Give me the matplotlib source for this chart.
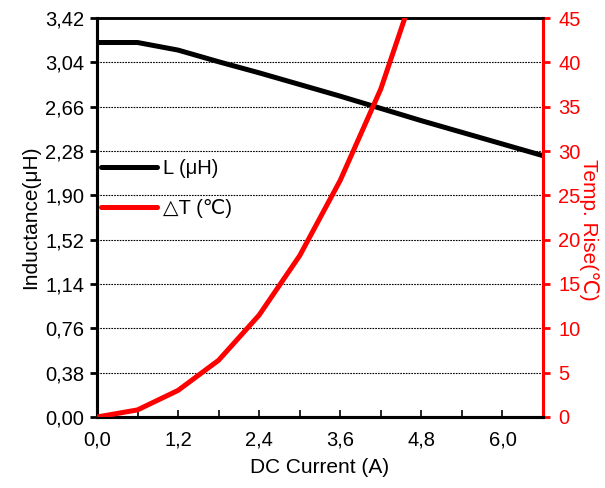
import matplotlib.pyplot as plt
import numpy as np
from matplotlib.lines import Line2D

plt.rcParams['font.family'] = ['Liberation Sans', 'DejaVu Sans']

# datos
corriente = [0.0, 0.6, 1.2, 1.8, 2.4, 3.0, 3.6, 4.2, 4.8, 5.4, 6.0, 6.6]
inductancia = [3.21, 3.21, 3.145, 3.045, 2.95, 2.85, 2.75, 2.645, 2.54, 2.44, 2.34, 2.24]
corriente_t = [0.0, 0.6, 1.2, 1.8, 2.4, 3.0, 3.6, 4.2, 4.8]
temp_rise = [0.0, 0.8, 3.0, 6.4, 11.5, 18.2, 26.7, 37.0, 50.5]

x_ticks = [0.0, 1.2, 2.4, 3.6, 4.8, 6.0]
x_labels = ["0,0", "1,2", "2,4", "3,6", "4,8", "6,0"]
yl_ticks = [0.00, 0.38, 0.76, 1.14, 1.52, 1.90, 2.28, 2.66, 3.04, 3.42]
yl_labels = ["0,00", "0,38", "0,76", "1,14", "1,52", "1,90", "2,28", "2,66", "3,04", "3,42"]
yr_ticks = [0, 5, 10, 15, 20, 25, 30, 35, 40, 45]

rojo = "#ff0000"
fs = 14.5
fs_lab = 15

fig = plt.figure(figsize=(6.05, 4.88), dpi=100)
ax1 = fig.add_axes([0.1603, 0.1455, 0.7372, 0.8176])
ax2 = ax1.twinx()

# Inductancia
ax1.plot(corriente, inductancia, color="black", lw=3.6, solid_capstyle="butt", zorder=3)
ax1.set_xlim(0, 6.6)
ax1.set_ylim(0, 3.42)
ax1.set_xticks(x_ticks)
ax1.set_xticklabels(x_labels, fontsize=fs)
ax1.set_xticks(np.arange(0.6, 6.61, 1.2), minor=True)
ax1.set_yticks(yl_ticks)
ax1.set_yticklabels(yl_labels, fontsize=fs)
ax1.tick_params(axis="x", which="both", direction="in", length=5, width=1.2, pad=10)
ax1.tick_params(axis="y", direction="out", length=5, width=2, pad=4)
for y in yl_ticks[1:-1]:
    ax1.axhline(y, color="black", lw=0.8, ls=(0, (1.5, 1.0)), zorder=1)
ax1.set_xlabel("DC Current (A)", fontsize=fs_lab, labelpad=6)
ax1.set_ylabel("Inductance(μH)", fontsize=fs_lab, labelpad=4)

# Temperatura
ax2.plot(corriente_t, temp_rise, color=rojo, lw=3.6, zorder=3)
ax2.set_ylim(0, 45)
ax2.set_yticks(yr_ticks)
ax2.set_yticklabels([str(v) for v in yr_ticks], fontsize=fs, color=rojo)
ax2.tick_params(axis="y", direction="out", length=5, width=2, color=rojo, pad=6)
ax2.set_ylabel("Temp. Rise(℃)", fontsize=fs_lab, color=rojo, rotation=-90, labelpad=16)
ax2.yaxis.set_label_coords(1.125, 0.47)

for ax in (ax1, ax2):
    ax.spines["left"].set_linewidth(2.2)
    ax.spines["bottom"].set_linewidth(2.2)
    ax.spines["top"].set_linewidth(1.8)
    ax.spines["right"].set_linewidth(2.2)
    ax.spines["right"].set_color(rojo)

handles = [
    Line2D([], [], color="black", lw=3.6, solid_capstyle="round"),
    Line2D([], [], color=rojo, lw=3.6, solid_capstyle="round"),
]
ax1.legend(handles, ["L (μH)", "△T (℃)"], loc="upper left",
           bbox_to_anchor=(-0.018, 0.6775), frameon=False, fontsize=fs,
           handlelength=2.8, handletextpad=0.3, labelspacing=1.05,
           borderaxespad=0.2)

fig.savefig("out.png", dpi=100)
